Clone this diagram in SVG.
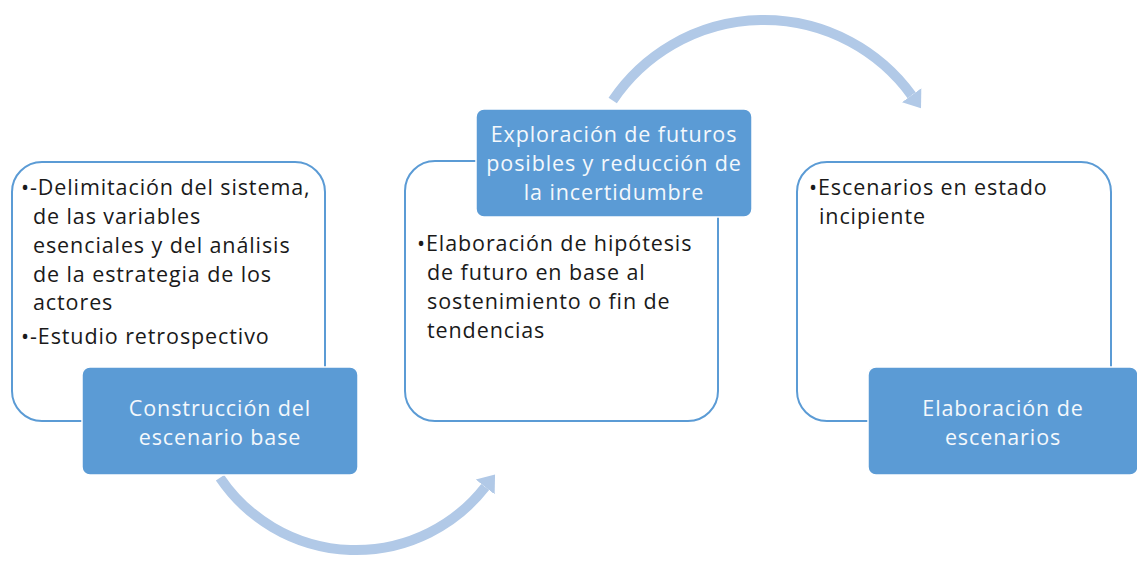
<svg xmlns="http://www.w3.org/2000/svg" width="1137" height="561" viewBox="0 0 1137 561">
<style>
.panel{fill:#ffffff;stroke:#5b9bd5;stroke-width:2}
.head{fill:#5b9bd5;stroke:#ffffff;stroke-width:1.5}
.body{font-family:"Open Sans","Liberation Sans",sans-serif;font-size:21.5px;letter-spacing:0.9px;fill:#1a1a1a}
.title{font-family:"Open Sans","Liberation Sans",sans-serif;font-size:21.5px;letter-spacing:0.9px;fill:#f4f8fc;text-anchor:middle}
.arc{fill:none;stroke:#b1c9e7;stroke-width:10}
</style>
<defs>
<marker id="ah" markerUnits="userSpaceOnUse" markerWidth="20" markerHeight="26" refX="0" refY="13" orient="auto" viewBox="0 0 20 26">
<path d="M0,1 L16,13 L0,25 Z" fill="#b1c9e7"/>
</marker>
</defs>
<g id="connectors">
<path class="arc" d="M 220 477.7 A 164 164 0 0 0 485.2 487.0" marker-end="url(#ah)"/>
<path class="arc" d="M 612.7 100.5 A 182.5 182.5 0 0 1 911.6 95.2" marker-end="url(#ah)"/>
</g>
<g id="node1">
<rect class="panel" x="12" y="162" width="313" height="259" rx="30"/>
<text class="body"><tspan x="21" y="195">•-Delimitación del sistema,</tspan><tspan x="33" y="224">de las variables</tspan><tspan x="33" y="253">esenciales y del análisis</tspan><tspan x="33" y="282">de la estrategia de los</tspan><tspan x="33" y="310">actores</tspan><tspan x="21" y="344">•-Estudio retrospectivo</tspan></text>
<rect class="head" x="82" y="367" width="276" height="108" rx="8"/>
<text class="title"><tspan x="220" y="416">Construcción del</tspan><tspan x="220" y="445">escenario base</tspan></text>
</g>
<g id="node2">
<rect class="panel" x="405" y="161" width="313" height="260" rx="30"/>
<text class="body"><tspan x="417" y="251">•Elaboración de hipótesis</tspan><tspan x="427" y="280">de futuro en base al</tspan><tspan x="427" y="309">sostenimiento o fin de</tspan><tspan x="427" y="338">tendencias</tspan></text>
<rect class="head" x="476" y="109" width="276" height="108" rx="8"/>
<text class="title"><tspan x="614" y="142">Exploración de futuros</tspan><tspan x="614" y="171">posibles y reducción de</tspan><tspan x="614" y="200">la incertidumbre</tspan></text>
</g>
<g id="node3">
<rect class="panel" x="797" y="162" width="314" height="259" rx="30"/>
<text class="body"><tspan x="809" y="195">•Escenarios en estado</tspan><tspan x="819" y="224">incipiente</tspan></text>
<rect class="head" x="868" y="367" width="270" height="108" rx="8"/>
<text class="title"><tspan x="1003" y="416">Elaboración de</tspan><tspan x="1003" y="445">escenarios</tspan></text>
</g>
</svg>
